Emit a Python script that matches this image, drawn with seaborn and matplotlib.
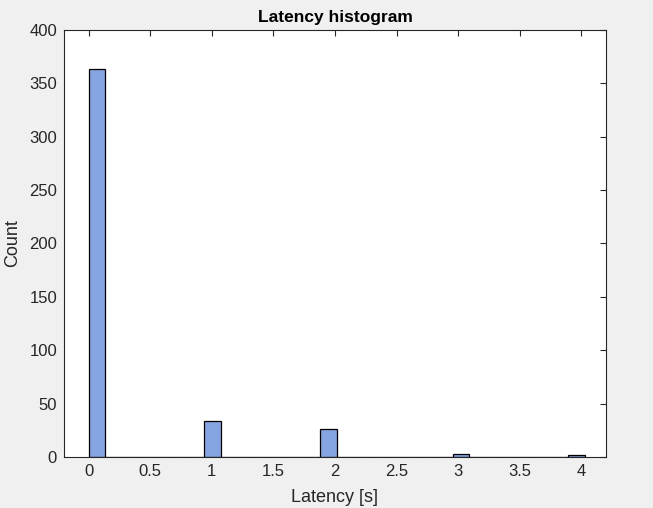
import matplotlib

matplotlib.use("Agg")

import matplotlib.pyplot as plt
import numpy as np
import pandas as pd
import seaborn as sns

# latency values (s) and how many requests fell in each bin
latency = [0, 1, 2, 3, 4]
counts = [363, 34, 26, 3, 2]
bin_edges = np.linspace(0, 4.03, 31).tolist()
x_ticks = [0, 0.5, 1, 1.5, 2, 2.5, 3, 3.5, 4]
x_tick_labels = ["0", "0.5", "1", "1.5", "2", "2.5", "3", "3.5", "4"]
y_ticks = [0, 50, 100, 150, 200, 250, 300, 350, 400]

df = pd.DataFrame({"latency": latency, "count": counts})

sns.set_style("white")
plt.rcParams["font.family"] = ["Liberation Sans", "DejaVu Sans"]

fig = plt.figure(figsize=(6.53, 5.08), dpi=100, facecolor="#F0F0F0")
ax = fig.add_axes([0.098, 0.1004, 0.83, 0.8406])
ax.set_facecolor("white")

sns.histplot(
    data=df,
    x="latency",
    weights="count",
    bins=bin_edges,
    color="#86A4E2",
    alpha=1,
    edgecolor="black",
    linewidth=0.9,
    ax=ax,
)

ax.set_xlim(-0.2, 4.2)
ax.set_ylim(0, 400)
ax.set_xticks(x_ticks)
ax.set_xticklabels(x_tick_labels)
ax.set_yticks(y_ticks)
ax.tick_params(axis="both", direction="in", length=4, width=0.8, colors="#262626",
               labelsize=12, top=True, right=True, pad=5)
for side in ax.spines.values():
    side.set_color("#262626")
    side.set_linewidth(0.8)

ax.set_title("Latency histogram", fontsize=12.5, fontweight="bold", color="black", pad=6)
ax.set_xlabel("Latency [s]", fontsize=13, color="#262626", labelpad=7)
ax.set_ylabel("Count", fontsize=13, color="#262626", labelpad=6)

fig.savefig("out.png", dpi=100, facecolor=fig.get_facecolor())
plt.close(fig)
